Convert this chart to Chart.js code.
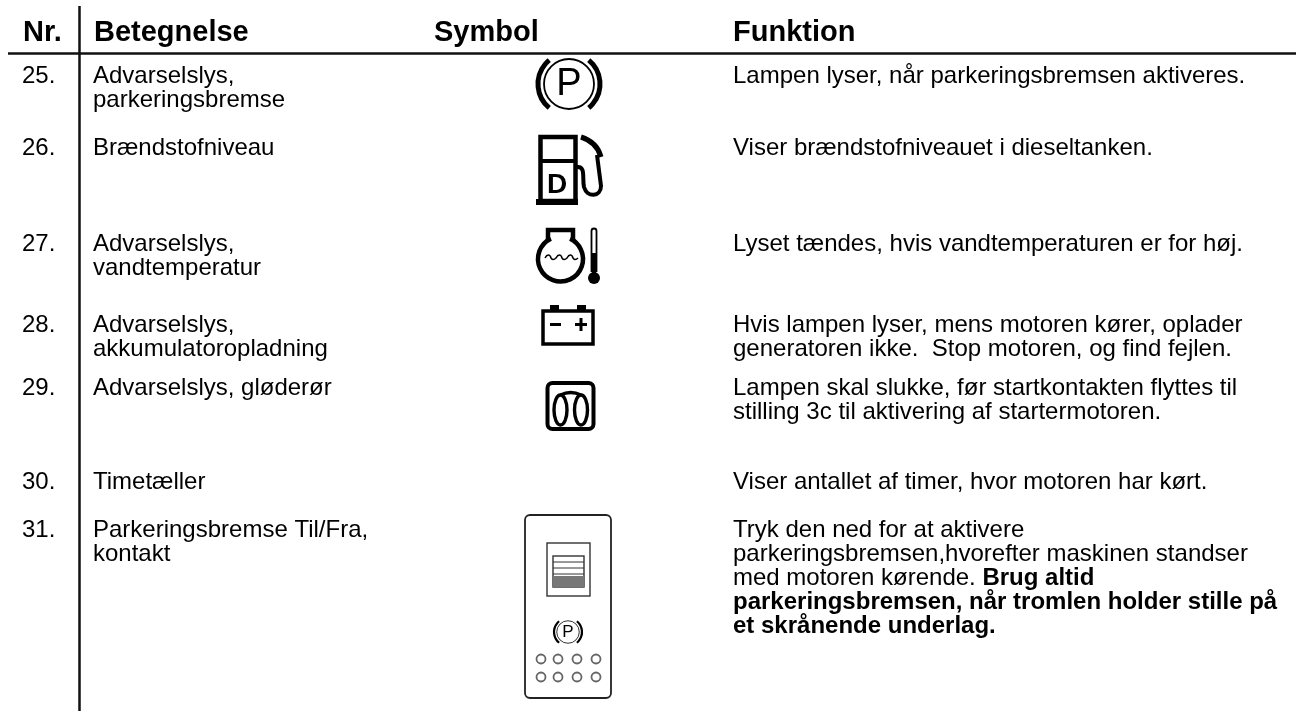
<!DOCTYPE html>
<html lang="da">
<head>
<meta charset="utf-8">
<title>Betjeningspanel</title>
<script src="https://cdn.jsdelivr.net/npm/chart.js@4/dist/chart.umd.min.js"></script>
<style>
  html, body { margin: 0; padding: 0; background: #fff; }
  #wrap { width: 1304px; height: 711px; }
</style>
</head>
<body>
<div id="wrap"><canvas id="chart" width="1304" height="711"></canvas></div>
<script>
// Tabellens indhold
const headers = ['Nr.', 'Betegnelse', 'Symbol', 'Funktion'];
const rowNumbers = ['25.', '26.', '27.', '28.', '29.', '30.', '31.'];
const rowNames = [
    ['Advarselslys,', 'parkeringsbremse'],
    ['Brændstofniveau'],
    ['Advarselslys,', 'vandtemperatur'],
    ['Advarselslys,', 'akkumulatoropladning'],
    ['Advarselslys, gløderør'],
    ['Timetæller'],
    ['Parkeringsbremse Til/Fra,', 'kontakt']
];
const rowFunctions = [
    ['Lampen lyser, når parkeringsbremsen aktiveres.'],
    ['Viser brændstofniveauet i dieseltanken.'],
    ['Lyset tændes, hvis vandtemperaturen er for høj.'],
    ['Hvis lampen lyser, mens motoren kører, oplader', 'generatoren ikke.  Stop motoren, og find fejlen.'],
    ['Lampen skal slukke, før startkontakten flyttes til', 'stilling 3c til aktivering af startermotoren.'],
    ['Viser antallet af timer, hvor motoren har kørt.'],
    ['Tryk den ned for at aktivere', 'parkeringsbremsen,hvorefter maskinen standser', 'med motoren kørende. ']
];
const boldTail = ['Brug altid', 'parkeringsbremsen, når tromlen holder stille på', 'et skrånende underlag.'];

// Placering (samme enheder som akserne, dvs. billedets pixels)
const rowBaselines = [83, 155, 251, 332, 395, 489, 537];
const headerBaseline = 41;
const lineStep = 24;
const headerX = [23, 94, 434, 733];
const colX = { nr: 22, name: 93, func: 733 };

const FONT = '"Liberation Sans", Arial, sans-serif';

const tablePlugin = {
    id: 'table',
    afterDatasetsDraw(chart) {
        const { ctx, scales } = chart;
        const X = v => scales.x.getPixelForValue(v);
        const Y = v => scales.y.getPixelForValue(v);
        ctx.save();
        ctx.fillStyle = '#000';
        ctx.textBaseline = 'alphabetic';

        ctx.font = 'bold 29px ' + FONT;
        headers.forEach((h, i) => ctx.fillText(h, X(headerX[i]), Y(headerBaseline)));

        ctx.font = '24px ' + FONT;
        rowNumbers.forEach((num, i) => {
            const base = rowBaselines[i];
            ctx.fillText(num, X(colX.nr), Y(base));
            rowNames[i].forEach((t, j) => ctx.fillText(t, X(colX.name), Y(base + j * lineStep)));
            rowFunctions[i].forEach((t, j) => ctx.fillText(t, X(colX.func), Y(base + j * lineStep)));
        });

        // fed tekst i sidste række
        const last = rowBaselines[6];
        const w = ctx.measureText(rowFunctions[6][2]).width;
        ctx.font = 'bold 24px ' + FONT;
        ctx.fillText(boldTail[0], X(colX.func) + w, Y(last + 2 * lineStep));
        ctx.fillText(boldTail[1], X(colX.func), Y(last + 3 * lineStep));
        ctx.fillText(boldTail[2], X(colX.func), Y(last + 4 * lineStep));

        drawParking(ctx, X(569), Y(84), 1);
        drawFuel(ctx, X(0), Y(0));
        drawEngine(ctx, X(0), Y(0));
        drawBattery(ctx, X(568), Y(325));
        drawGlow(ctx, X(570.5), Y(405));
        drawSwitch(ctx, X(0), Y(0));
        ctx.restore();
    }
};

function drawParking(ctx, cx, cy, s) {
    ctx.strokeStyle = '#000';
    ctx.lineWidth = 1.8 * s;
    ctx.beginPath(); ctx.arc(cx, cy, 25 * s, 0, Math.PI * 2); ctx.stroke();
    ctx.lineWidth = 5 * s;
    ctx.beginPath(); ctx.arc(cx, cy, 31 * s, Math.PI * 0.72, Math.PI * 1.28); ctx.stroke();
    ctx.beginPath(); ctx.arc(cx, cy, 31 * s, -Math.PI * 0.28, Math.PI * 0.28); ctx.stroke();
    ctx.fillStyle = '#000';
    ctx.font = Math.round(38 * s) + 'px ' + FONT;
    ctx.textAlign = 'center';
    ctx.textBaseline = 'middle';
    ctx.fillText('P', cx, cy + s);
    ctx.textAlign = 'left';
    ctx.textBaseline = 'alphabetic';
}

// ikonerne tegnes med billedets egne koordinater
function drawFuel(ctx) {
    ctx.strokeStyle = '#000';
    ctx.fillStyle = '#000';
    ctx.lineWidth = 4.5;
    ctx.strokeRect(540.5, 137, 35, 64);
    ctx.fillRect(540, 159, 36, 4);
    ctx.fillRect(536, 199, 42, 6);
    ctx.font = 'bold 28px ' + FONT;
    ctx.fillText('D', 547, 193);
    ctx.lineWidth = 4;
    ctx.beginPath();
    ctx.moveTo(577, 167);
    ctx.bezierCurveTo(586, 166, 582, 178, 584, 187);
    ctx.bezierCurveTo(587, 198, 601, 197, 601, 186);
    ctx.lineTo(597, 155);
    ctx.stroke();
    ctx.lineWidth = 5;
    ctx.beginPath();
    ctx.moveTo(581, 137);
    ctx.quadraticCurveTo(597, 142, 601, 157);
    ctx.stroke();
}

function drawEngine(ctx) {
    ctx.strokeStyle = '#000';
    ctx.lineWidth = 4.5;
    ctx.beginPath();
    ctx.moveTo(548, 240);
    ctx.lineTo(548, 230);
    ctx.lineTo(573, 230);
    ctx.lineTo(573, 240);
    ctx.stroke();
    ctx.beginPath(); ctx.arc(560.5, 259, 22.5, Math.PI * 1.36, Math.PI * 1.64, true); ctx.stroke();
    ctx.lineWidth = 1.5;
    ctx.beginPath();
    ctx.moveTo(545, 258);
    for (let k = 0; k < 3; k++) {
        const a = 545 + k * 11;
        ctx.bezierCurveTo(a + 2, 254, a + 5, 254, a + 6, 258);
        ctx.quadraticCurveTo(a + 8, 261, a + 11, 258);
    }
    ctx.stroke();
    // termometer
    ctx.lineWidth = 1.8;
    ctx.beginPath();
    ctx.moveTo(591.5, 272);
    ctx.lineTo(591.5, 231);
    ctx.arc(594, 231, 2.5, Math.PI, 0);
    ctx.lineTo(596.5, 272);
    ctx.stroke();
    ctx.fillStyle = '#000';
    ctx.fillRect(592, 253, 4, 20);
    ctx.beginPath(); ctx.arc(594, 278, 6, 0, Math.PI * 2); ctx.fill();
}

function drawBattery(ctx, x, y) {
    ctx.strokeStyle = '#000';
    ctx.fillStyle = '#000';
    ctx.lineWidth = 3.5;
    ctx.strokeRect(x - 25, y - 14, 50, 33);
    ctx.fillRect(x - 18, y - 20, 9, 6);
    ctx.fillRect(x + 9, y - 20, 9, 6);
    ctx.fillRect(x - 18, y - 2, 11, 3);
    ctx.fillRect(x + 7, y - 2, 12, 3);
    ctx.fillRect(x + 11.5, y - 7, 3, 13);
}

function drawGlow(ctx, x, y) {
    ctx.strokeStyle = '#000';
    ctx.lineWidth = 4;
    ctx.beginPath();
    ctx.roundRect(x - 23, y - 22, 46, 46, 5);
    ctx.stroke();
    ctx.lineWidth = 3.4;
    ctx.beginPath(); ctx.ellipse(x - 10, y + 5, 6.5, 15, 0, 0, Math.PI * 2); ctx.stroke();
    ctx.beginPath(); ctx.ellipse(x + 10.5, y + 5, 6.5, 15, 0, 0, Math.PI * 2); ctx.stroke();
    ctx.beginPath(); ctx.moveTo(x - 10, y - 10); ctx.quadraticCurveTo(x, y - 15, x + 10.5, y - 10); ctx.stroke();
}

function drawSwitch(ctx) {
    ctx.strokeStyle = '#222';
    ctx.lineWidth = 1.8;
    ctx.beginPath();
    ctx.roundRect(525, 515, 86, 183, 5);
    ctx.stroke();
    ctx.strokeStyle = '#333';
    ctx.lineWidth = 1.4;
    ctx.strokeRect(547, 543, 43, 53);
    ctx.strokeRect(553, 556, 31, 31);
    ctx.lineWidth = 1;
    for (let k = 1; k < 4; k++) {
        ctx.beginPath(); ctx.moveTo(553, 556 + k * 6); ctx.lineTo(584, 556 + k * 6); ctx.stroke();
    }
    ctx.fillStyle = '#777';
    ctx.fillRect(553, 576, 31, 11);
    drawParking(ctx, 568, 632, 0.45);
    ctx.strokeStyle = '#666';
    ctx.lineWidth = 1.8;
    [659, 677].forEach(cy => {
        [541, 558, 577, 596].forEach(cx => {
            ctx.beginPath(); ctx.arc(cx, cy, 4.5, 0, Math.PI * 2); ctx.stroke();
        });
    });
}

new Chart(document.getElementById('chart'), {
    type: 'line',
    data: {
        datasets: [
            { data: [{ x: 8, y: 53.5 }, { x: 1296, y: 53.5 }], borderColor: '#111', borderWidth: 2.5, pointRadius: 0 },
            { data: [{ x: 79.5, y: 6 }, { x: 79.5, y: 711 }], borderColor: '#111', borderWidth: 2.5, pointRadius: 0 }
        ]
    },
    options: {
        responsive: false,
        animation: false,
        layout: { padding: 0 },
        plugins: { legend: { display: false }, tooltip: { enabled: false } },
        scales: {
            x: { type: 'linear', min: 0, max: 1304, display: false },
            y: { type: 'linear', min: 0, max: 711, reverse: true, display: false }
        }
    },
    plugins: [tablePlugin]
});
</script>
</body>
</html>
